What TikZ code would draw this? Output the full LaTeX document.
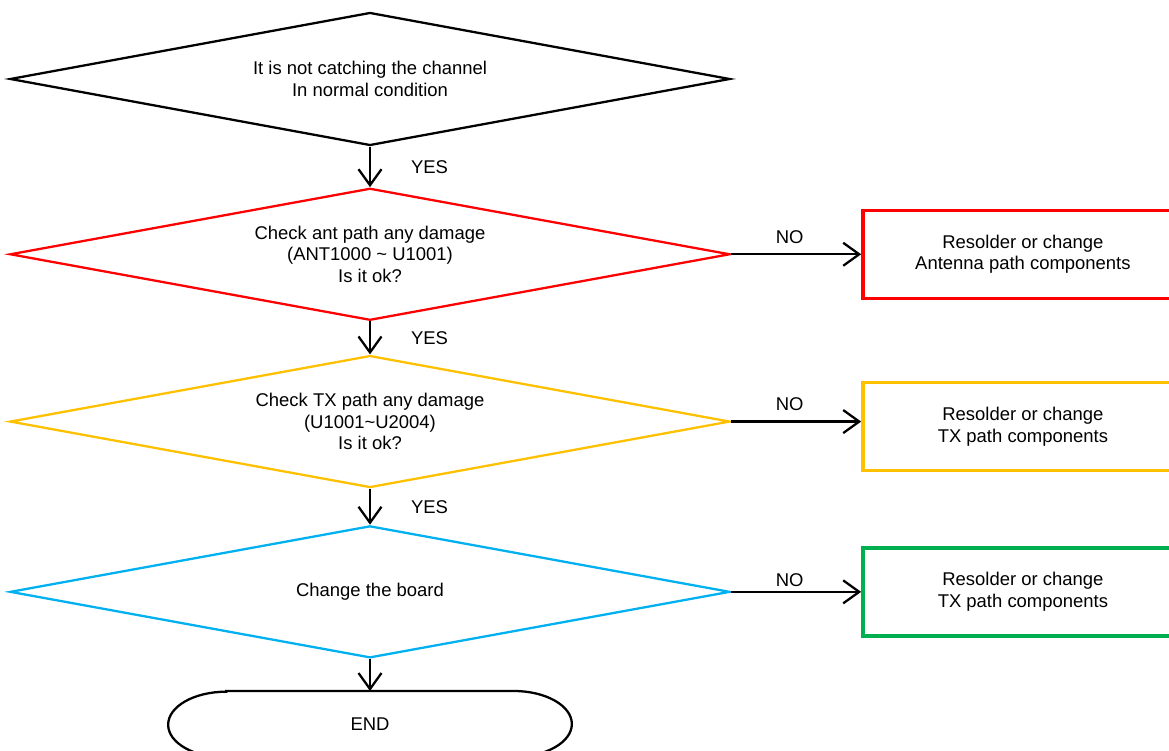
\documentclass[tikz,border=0pt]{standalone}
\usepackage{fontspec}
\setmainfont{Liberation Sans}
\usetikzlibrary{arrows.meta,positioning,shapes.geometric}

\definecolor{antred}{RGB}{255,0,0}
\definecolor{txyellow}{RGB}{255,192,0}
\definecolor{boardblue}{RGB}{0,176,240}
\definecolor{fixgreen}{RGB}{0,176,80}

\begin{document}
\begin{tikzpicture}[font=\fontsize{10.5}{12.2}\selectfont,
    check/.style={draw,diamond,aspect=5.4,inner sep=0pt,line width=1.3pt,minimum width=14.4cm,minimum height=2.64cm,align=center},
    fixbox/.style={draw,rectangle,line width=2pt,minimum width=6.4cm,minimum height=1.76cm,align=center},
    flow/.style={-{Straight Barb[length=3.2mm,width=4.6mm]},line width=1.3pt}]
      \useasboundingbox (0,0) rectangle (23.38,-15.02);
      \clip (0,0) rectangle (23.38,-15.02);

      \node[check,minimum height=2.66cm] (s) at (7.40,-1.58) {It is not catching the channel\\In normal condition};
      \node[check,draw=antred,below=0.81cm of s] (ant) {Check ant path any damage\\(ANT1000 \textasciitilde{} U1001)\\Is it ok?};
      \node[check,draw=txyellow,below=0.66cm of ant] (tx) {Check TX path any damage\\(U1001\textasciitilde U2004)\\Is it ok?};
      \node[check,draw=boardblue,below=0.72cm of tx] (brd) {Change the board};
      \node[minimum width=8.06cm,minimum height=1.32cm,below=0.64cm of brd] (end) {END};

      \node[fixbox,draw=antred,right=2.6cm of ant] (fa) {Resolder or change\\Antenna path components};
      \node[fixbox,draw=txyellow,right=2.6cm of tx,yshift=-0.1cm] (ft) {Resolder or change\\TX path components};
      \node[fixbox,draw=fixgreen,right=2.6cm of brd] (fb) {Resolder or change\\TX path components};

      \draw[flow] (s.south) -- node[right=0.68cm] {YES} (ant.north);
      \draw[flow] (ant.south) -- node[right=0.68cm] {YES} (tx.north);
      \draw[flow] (tx.south) -- node[right=0.68cm] {YES} (brd.north);
      \draw[flow] (brd.south) -- (end.north);

      \draw[flow] (ant.east) -- node[above=2pt,pos=0.45] {NO} (ant.east -| fa.west);
      \draw[flow] (tx.east) -- node[above=2pt,pos=0.45] {NO} (tx.east -| ft.west);
      \draw[flow] (brd.east) -- node[above=-1pt,pos=0.45] {NO} (fb.west);

      % terminal with flat ellipse ends
      \draw[line width=1.3pt] ([xshift=1.16cm]end.north west) -- ([xshift=-1.16cm]end.north east)
        arc[start angle=90,end angle=-90,x radius=1.16cm,y radius=0.66cm]
        -- ([xshift=1.16cm]end.south west)
        arc[start angle=270,end angle=90,x radius=1.16cm,y radius=0.66cm] -- cycle;
    \end{tikzpicture}
\end{document}
